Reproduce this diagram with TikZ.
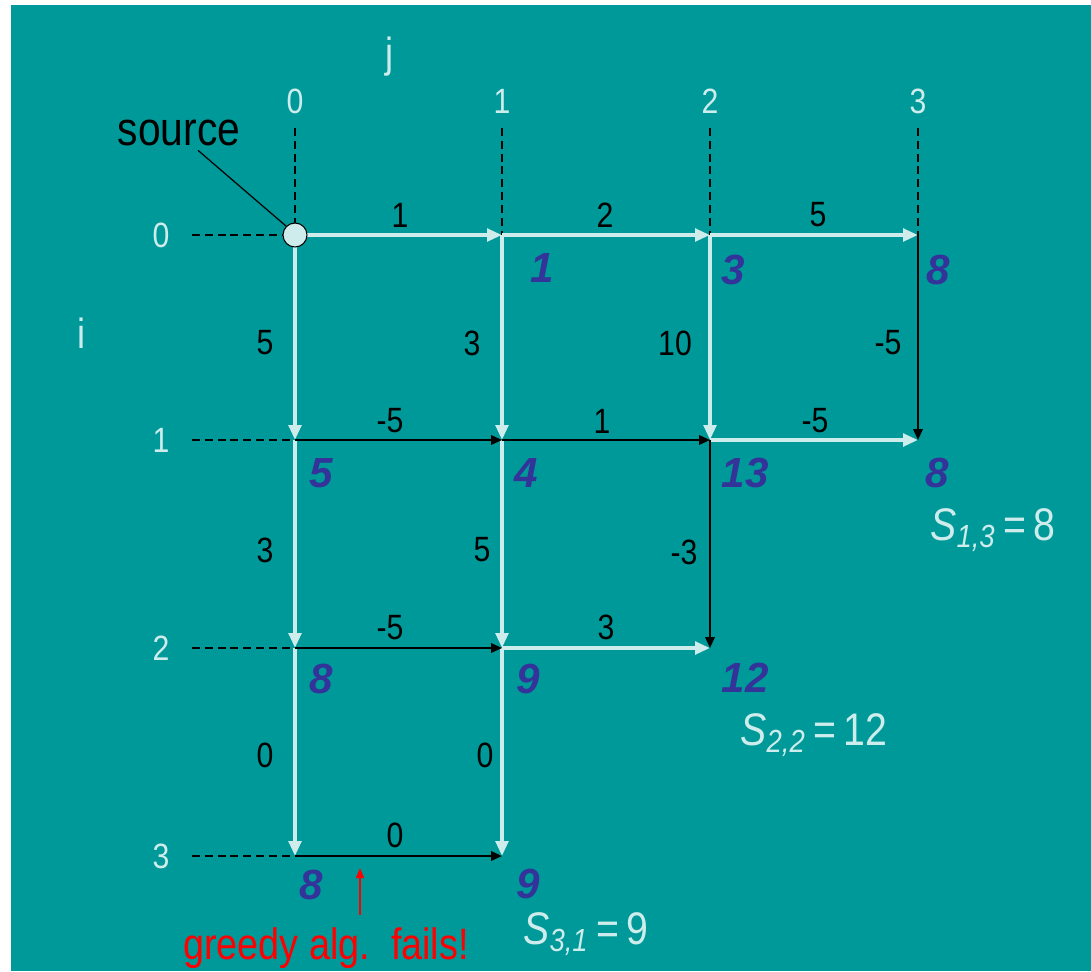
\documentclass[tikz,border=0pt]{standalone}
\usepackage{fontspec}
\setmainfont{Liberation Sans}[FakeStretch=0.86]
\newfontfamily\valfont{Liberation Sans}
\usepackage{xcolor}
\usepackage{tikz}
\usetikzlibrary{arrows.meta}

\definecolor{bg}{RGB}{0,153,153}
\definecolor{lite}{RGB}{206,236,236}
\definecolor{valblue}{RGB}{51,51,153}

\begin{document}
\begin{tikzpicture}[
    x=0.02cm,y=-0.02cm,
    wedge/.style={draw=lite,line width=2.3pt,-{Triangle[length=0.3cm,width=0.25cm]}},
    bedge/.style={draw=black,line width=1.1pt,-{Triangle[length=0.22cm,width=0.19cm]}},
    dashline/.style={draw=black,line width=1.1pt,dash pattern=on 4.5pt off 2.8pt},
    ax/.style={text=lite,inner sep=0pt,font=\fontsize{20}{20}\selectfont},
    wt/.style={text=black,inner sep=0pt,font=\fontsize{20}{20}\selectfont},
    val/.style={text=valblue,inner sep=0pt,font=\valfont\fontsize{24}{24}\selectfont\bfseries\itshape},
    sum/.style={text=lite,inner sep=0pt,font=\fontsize{26}{26}\selectfont}
  ]
    \fill[white] (0,0) rectangle (1091,971);
    \fill[bg] (11,5) rectangle (1091,971);

    % grid points
    \coordinate (v00) at (295,235);
    \coordinate (v01) at (502,235);
    \coordinate (v02) at (710,235);
    \coordinate (v03) at (918,235);
    \coordinate (v10) at (295,440);
    \coordinate (v11) at (502,440);
    \coordinate (v12) at (710,440);
    \coordinate (v13) at (918,440);
    \coordinate (v20) at (295,648);
    \coordinate (v21) at (502,648);
    \coordinate (v22) at (710,648);
    \coordinate (v30) at (295,856);
    \coordinate (v31) at (502,856);

    \coordinate (t0) at (295,128);
    \coordinate (t1) at (502,128);
    \coordinate (t2) at (710,128);
    \coordinate (t3) at (918,128);
    \coordinate (l0) at (192,235);
    \coordinate (l1) at (192,440);
    \coordinate (l2) at (192,648);
    \coordinate (l3) at (192,856);

    \draw[dashline] (t0) -- (v00);
    \draw[dashline] (t1) -- (v01);
    \draw[dashline] (t2) -- (v02);
    \draw[dashline] (t3) -- (v03);
    \draw[dashline] (l0) -- (v00);
    \draw[dashline] (l1) -- (v10);
    \draw[dashline] (l2) -- (v20);
    \draw[dashline] (l3) -- (v30);

    \draw[wedge] (v00) -- (v01);
    \draw[wedge] (v01) -- (v02);
    \draw[wedge] (v02) -- (v03);
    \draw[wedge] (v00) -- (v10);
    \draw[wedge] (v10) -- (v20);
    \draw[wedge] (v20) -- (v30);
    \draw[wedge] (v01) -- (v11);
    \draw[wedge] (v11) -- (v21);
    \draw[wedge] (v21) -- (v31);
    \draw[wedge] (v02) -- (v12);
    \draw[wedge] (v12) -- (v13);
    \draw[wedge] (v21) -- (v22);

    \draw[bedge] (v03) -- (v13);
    \draw[bedge] (v12) -- (v22);
    \draw[bedge] (v10) -- (v11);
    \draw[bedge] (v11) -- (v12);
    \draw[bedge] (v20) -- (v21);
    \draw[bedge] (v30) -- (v31);

    \node[circle,draw=black,fill=lite,line width=0.6pt,minimum size=0.48cm,inner sep=0pt] (srcdot) at (v00) {};
    \node[text=black,inner sep=0pt,font=\fontsize{27}{27}\selectfont] (srclbl) at (179,133) {source};
    \draw[line width=0.7pt] ([xshift=0.38cm,yshift=-0.08cm]srclbl.south) -- (srcdot.north west);

    \node[text=lite,inner sep=0pt,font=\fontsize{24}{24}\selectfont] (jlbl) at (390,57) {j};
    \node[text=lite,inner sep=0pt,font=\fontsize{24}{24}\selectfont] (ilbl) at (82,333) {i};

    \node[ax] (c0) at (295,101) {0};
    \node[ax] (c1) at (502,101) {1};
    \node[ax] (c2) at (710,101) {2};
    \node[ax] (c3) at (918,101) {3};
    \node[ax] (r0) at (161,235) {0};
    \node[ax] (r1) at (161,440) {1};
    \node[ax] (r2) at (161,648) {2};
    \node[ax] (r3) at (161,856) {3};

    % edge weights
    \node[wt] (w0001) at (400,215) {1};
    \node[wt] (w0102) at (605,215) {2};
    \node[wt] (w0203) at (818,215) {5};
    \node[wt] (w0010) at (265,343) {5};
    \node[wt] (w0111) at (472,343) {3};
    \node[wt] (w0212) at (675,343) {10};
    \node[wt] (w0313) at (888,343) {-5};
    \node[wt] (w1011) at (390,421) {-5};
    \node[wt] (w1112) at (602,421) {1};
    \node[wt] (w1213) at (815,421) {-5};
    \node[wt] (w1020) at (265,550) {3};
    \node[wt] (w1121) at (482,550) {5};
    \node[wt] (w1222) at (684,552) {-3};
    \node[wt] (w2021) at (390,628) {-5};
    \node[wt] (w2122) at (606,627) {3};
    \node[wt] (w2030) at (265,755) {0};
    \node[wt] (w2131) at (485,755) {0};
    \node[wt] (w3031) at (395,835) {0};

    % path values
    \node[val] (s01) at (542,268) {1};
    \node[val] (s02) at (733,270) {3};
    \node[val] (s03) at (938,270) {8};
    \node[val] (s10) at (321,473) {5};
    \node[val] (s11) at (526,473) {4};
    \node[val] (s12) at (745,473) {13};
    \node[val] (s13) at (937,473) {8};
    \node[val] (s20) at (321,679) {8};
    \node[val] (s21) at (528,679) {9};
    \node[val] (s22) at (745,678) {12};
    \node[val] (s30) at (311,885) {8};
    \node[val] (s31) at (528,884) {9};

    \node[sum] (sum13) at (993,530) {\textit{S}\textsubscript{\textit{1,3}}\,=\,8};
    \node[sum] (sum22) at (814,735) {\textit{S}\textsubscript{\textit{2,2}}\,=\,12};
    \node[sum] (sum31) at (586,934) {\textit{S}\textsubscript{\textit{3,1}}\,=\,9};

    \node[text=red,inner sep=0pt,font=\fontsize{25}{25}\selectfont] (greedy) at (326,948) {greedy alg.\ \ fails!};
    \coordinate (gtip) at (360,868);
    \draw[red,line width=1.1pt,-{Triangle[length=0.2cm,width=0.16cm]}] (greedy.north -| gtip) ++(0,-12) -- (gtip);
  \end{tikzpicture}
\end{document}
